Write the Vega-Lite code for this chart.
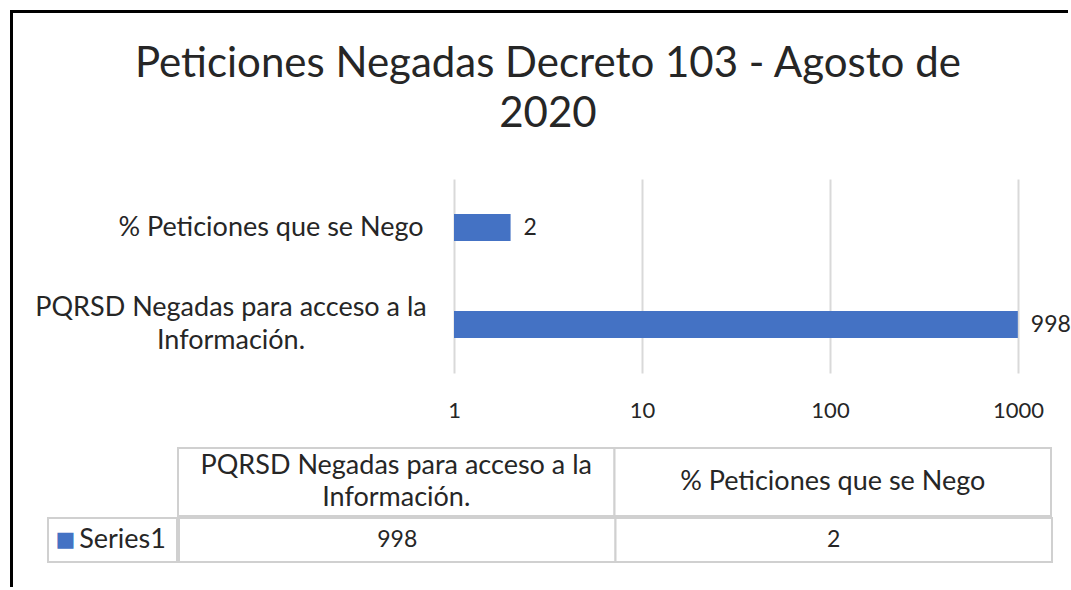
{
  "$schema": "https://vega.github.io/schema/vega-lite/v6.json",
  "background": "white",
  "padding": {"left": 10, "top": 10, "right": 0, "bottom": 0},
  "config": {
    "view": {"stroke": null},
    "font": "Lato",
    "text": {"font": "Lato", "fontSize": 27, "color": "#262626"}
  },
  "datasets": {
    "peticiones": [
      {"categoria": "PQRSD Negadas para acceso a la\nInformación.", "valor": 998},
      {"categoria": "% Peticiones que se Nego", "valor": 2}
    ],
    "serie": [{"serie": "Series1"}],
    "vacio": []
  },
  "spacing": 0,
  "vconcat": [
    {"width": 1058, "height": 3, "view": {"fill": "#000000", "stroke": null}, "data": {"name": "vacio"}, "mark": "point", "encoding": {}},
    {
      "spacing": 22,
      "hconcat": [
        {"width": 3, "height": 574, "view": {"fill": "#000000", "stroke": null}, "data": {"name": "vacio"}, "mark": "point", "encoding": {}},
        {
          "spacing": 26,
          "vconcat": [
            {"width": 1, "height": 4, "data": {"name": "vacio"}, "mark": "point", "encoding": {}},
            {
              "spacing": 0,
              "title": {
                "text": ["Peticiones Negadas Decreto 103 - Agosto de", "2020"],
                "font": "Lato",
                "fontSize": 42,
                "fontWeight": "normal",
                "color": "#262626",
                "anchor": "middle",
                "dx": -5,
                "lineHeight": 50,
                "offset": 43
              },
              "hconcat": [
                {
                  "width": 412,
                  "height": 194,
                  "data": {"name": "peticiones"},
                  "encoding": {
                    "y": {
                      "field": "categoria",
                      "type": "nominal",
                      "sort": ["% Peticiones que se Nego", "PQRSD Negadas para acceso a la\nInformación."],
                      "scale": {"paddingInner": 0.72, "paddingOuter": 0.36},
                      "axis": null
                    }
                  },
                  "layer": [
                    {
                      "transform": [{"filter": "indexof(datum.categoria, '\\n') >= 0"}],
                      "mark": {"type": "text", "align": "center", "lineBreak": "\n", "lineHeight": 33, "dy": -16.5, "dx": -10},
                      "encoding": {"text": {"field": "categoria"}}
                    },
                    {
                      "transform": [{"filter": "indexof(datum.categoria, '\\n') < 0"}],
                      "mark": {"type": "text", "align": "center", "dx": 30},
                      "encoding": {"text": {"field": "categoria"}}
                    }
                  ]
                },
                {
                  "width": 564,
                  "height": 194,
                  "data": {"name": "peticiones"},
                  "encoding": {
                    "y": {
                      "field": "categoria",
                      "type": "nominal",
                      "sort": ["% Peticiones que se Nego", "PQRSD Negadas para acceso a la\nInformación."],
                      "scale": {"paddingInner": 0.72, "paddingOuter": 0.36},
                      "axis": null
                    }
                  },
                  "layer": [
                    {
                      "mark": {"type": "bar", "color": "#4472C4"},
                      "encoding": {
                        "x": {
                          "field": "valor",
                          "type": "quantitative",
                          "scale": {"type": "log", "domain": [1, 1000], "nice": false},
                          "axis": {
                            "title": null,
                            "values": [1, 10, 100, 1000],
                            "format": "d",
                            "domain": false,
                            "ticks": false,
                            "grid": true,
                            "gridColor": "#d9d9d9",
                            "gridWidth": 2,
                            "labelFont": "Lato",
                            "labelFontSize": 22,
                            "labelColor": "#262626",
                            "labelPadding": 27,
                            "labelFlush": false
                          }
                        },
                        "x2": {"datum": 1}
                      }
                    },
                    {
                      "mark": {"type": "text", "align": "left", "baseline": "middle", "dx": 13, "fontSize": 23},
                      "encoding": {
                        "x": {"field": "valor", "type": "quantitative"},
                        "text": {"field": "valor", "type": "quantitative"}
                      }
                    }
                  ]
                }
              ]
            },
            {
              "spacing": 0,
              "hconcat": [
                {"width": 12, "height": 1, "data": {"name": "vacio"}, "mark": "point", "encoding": {}},
                {
                  "spacing": 0,
                  "vconcat": [
                    {
                      "spacing": 0,
                      "hconcat": [
                        {"width": 129, "height": 68, "data": {"name": "vacio"}, "mark": "point", "encoding": {}},
                        {
                          "width": 873,
                          "height": 68,
                          "data": {"name": "peticiones"},
                          "encoding": {
                            "x": {
                              "field": "categoria",
                              "type": "nominal",
                              "sort": ["PQRSD Negadas para acceso a la\nInformación.", "% Peticiones que se Nego"],
                              "scale": {"paddingInner": 0, "paddingOuter": 0},
                              "axis": null
                            }
                          },
                          "layer": [
                            {"mark": {"type": "rect", "fill": "white", "stroke": "#d0d0d0", "strokeWidth": 2}},
                            {
                              "transform": [{"filter": "indexof(datum.categoria, '\\n') >= 0"}],
                              "mark": {"type": "text", "lineBreak": "\n", "lineHeight": 32, "dy": -16},
                              "encoding": {"text": {"field": "categoria"}}
                            },
                            {
                              "transform": [{"filter": "indexof(datum.categoria, '\\n') < 0"}],
                              "mark": {"type": "text"},
                              "encoding": {"text": {"field": "categoria"}}
                            }
                          ]
                        }
                      ]
                    },
                    {
                      "spacing": 0,
                      "hconcat": [
                        {
                          "width": 129,
                          "height": 44,
                          "view": {"stroke": "#d0d0d0", "strokeWidth": 2},
                          "data": {"name": "serie"},
                          "layer": [
                            {"mark": {"type": "text", "text": "■", "font": "DejaVu Sans", "fontSize": 21, "color": "#4472C4", "dx": -47}, "encoding": {}},
                            {"mark": {"type": "text", "dx": 10}, "encoding": {"text": {"field": "serie"}}}
                          ]
                        },
                        {
                          "width": 873,
                          "height": 44,
                          "data": {"name": "peticiones"},
                          "encoding": {
                            "x": {
                              "field": "categoria",
                              "type": "nominal",
                              "sort": ["PQRSD Negadas para acceso a la\nInformación.", "% Peticiones que se Nego"],
                              "scale": {"paddingInner": 0, "paddingOuter": 0},
                              "axis": null
                            }
                          },
                          "layer": [
                            {"mark": {"type": "rect", "fill": "white", "stroke": "#d0d0d0", "strokeWidth": 2}},
                            {"mark": {"type": "text", "fontSize": 23}, "encoding": {"text": {"field": "valor", "type": "quantitative"}}}
                          ]
                        }
                      ]
                    }
                  ]
                }
              ]
            }
          ]
        }
      ]
    }
  ]
}
